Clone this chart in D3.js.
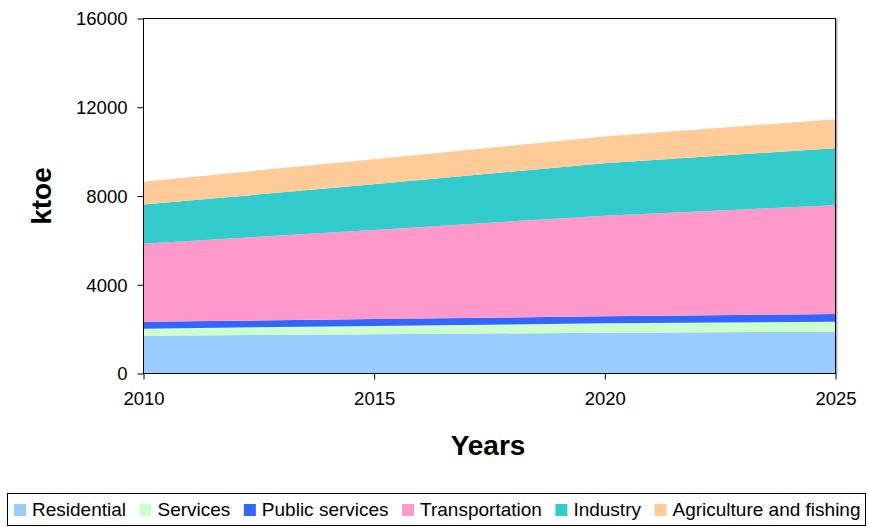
<!DOCTYPE html>
<html>
<head>
<meta charset="utf-8">
<script src="https://cdn.jsdelivr.net/npm/d3@7"></script>
<style>
  body { margin: 0; background: #fff; }
  svg { display: block; font-family: "Liberation Sans", Arial, sans-serif; }
</style>
</head>
<body>
<svg id="chart" width="869" height="527"></svg>
<script>
// values, ktoe
const years = [2010, 2015, 2020, 2025];
const residential = [1680, 1745, 1815, 1860];
const services = [320, 375, 425, 450];
const publicServices = [310, 315, 315, 350];
const transportation = [3520, 4015, 4535, 4900];
const industry = [1760, 2055, 2365, 2570];
const agriculture = [1035, 1130, 1200, 1310];
const yTicks = [0, 4000, 8000, 12000, 16000];

const seriesNames = ["Residential", "Services", "Public services", "Transportation", "Industry", "Agriculture and fishing"];
const seriesColors = ["#99ccff", "#ccffcc", "#3366ff", "#ff99cc", "#33cccc", "#ffcc99"];
const seriesValues = [residential, services, publicServices, transportation, industry, agriculture];

const rows = years.map((yr, i) => {
    const r = { year: yr };
    seriesNames.forEach((n, j) => r[n] = seriesValues[j][i]);
    return r;
});

const svg = d3.select("#chart");
const plotL = 143, plotR = 835, plotT = 18, plotB = 373;

const x = d3.scaleLinear().domain([2010, 2025]).range([plotL, plotR]);
const y = d3.scaleLinear().domain([0, 16000]).range([plotB, plotT]);

const stacked = d3.stack().keys(seriesNames)(rows);

const area = d3.area()
    .x(d => x(d.data.year))
    .y0(d => y(d[0]))
    .y1(d => y(d[1]));

svg.append("g").selectAll("path")
    .data(stacked)
    .join("path")
    .attr("d", area)
    .style("fill", (d, i) => seriesColors[i]);

// plot frame with a little shadow on the right
svg.append("line")
    .attr("x1", plotR + 1.5).attr("x2", plotR + 1.5)
    .attr("y1", plotT + 1).attr("y2", plotB + 1)
    .style("stroke", "#b0b0b0").style("stroke-width", 2);
svg.append("rect")
    .attr("x", plotL + 0.5).attr("y", plotT + 0.5)
    .attr("width", plotR - plotL).attr("height", plotB - plotT)
    .style("fill", "none").style("stroke", "#000").style("stroke-width", 1);

const yAxis = svg.append("g")
    .attr("transform", `translate(${plotL + 0.5},0.5)`)
    .call(d3.axisLeft(y).tickValues(yTicks).tickSize(6).tickPadding(10).tickFormat(d3.format("d")));
const xAxis = svg.append("g")
    .attr("transform", `translate(0.5,${plotB + 0.5})`)
    .call(d3.axisBottom(x).tickValues(years).tickSize(6).tickPadding(12).tickFormat(d3.format("d")));

[yAxis, xAxis].forEach(g => {
    g.select(".domain").remove();
    g.selectAll("line").style("stroke", "#000");
    g.selectAll("text")
        .style("font-family", "Liberation Sans, Arial, sans-serif")
        .style("font-size", "18.5px")
        .style("fill", "#000");
});
yAxis.selectAll("text").attr("dy", "0.35em");

svg.append("text")
    .attr("transform", "translate(51,196) rotate(-90)")
    .attr("text-anchor", "middle")
    .style("font-size", "28px").style("font-weight", "bold")
    .text("ktoe");

svg.append("text")
    .attr("x", 488).attr("y", 455)
    .attr("text-anchor", "middle")
    .style("font-size", "28px").style("font-weight", "bold")
    .text("Years");

// legend
const legend = svg.append("g");
legend.append("rect")
    .attr("x", 7.5).attr("y", 493.5)
    .attr("width", 858).attr("height", 32)
    .style("fill", "#fff").style("stroke", "#000").style("stroke-width", 1);

let lx = 14;
seriesNames.forEach((name, i) => {
    legend.append("rect")
        .attr("x", lx).attr("y", 504)
        .attr("width", 12).attr("height", 12)
        .style("fill", seriesColors[i]);
    const t = legend.append("text")
        .attr("x", lx + 18).attr("y", 516)
        .style("font-size", "19px")
        .text(name);
    lx += 18 + t.node().getComputedTextLength() + 13.5;
});
</script>
</body>
</html>
